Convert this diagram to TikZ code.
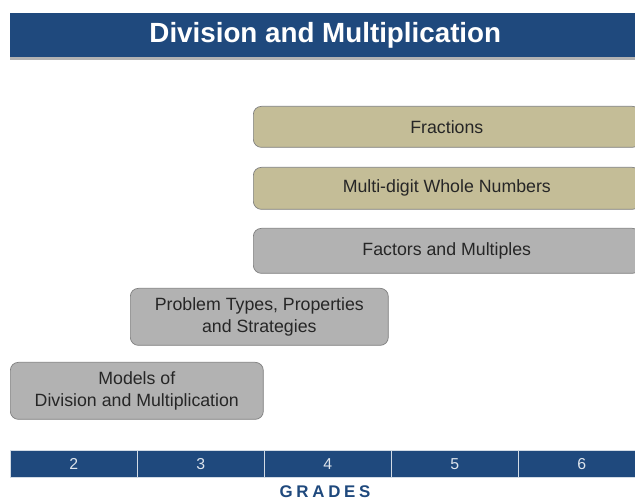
\documentclass[tikz,border=0pt]{standalone}
\usepackage{fontspec}
\setmainfont{Liberation Sans}
\newfontfamily\gradefont[LetterSpace=22]{Liberation Sans}
\usetikzlibrary{positioning,shadows}
\definecolor{barblue}{HTML}{1F497D}
\definecolor{tanfill}{HTML}{C4BD97}
\definecolor{greyfill}{HTML}{B2B2B2}
\definecolor{boxline}{HTML}{7F7F7F}
\definecolor{boxtext}{HTML}{262626}

\begin{document}
\begin{tikzpicture}[x=0.02cm,y=-0.02cm,font=\fontsize{10.1}{12.8}\selectfont,
  topic/.style={draw=boxline,rounded corners=0.16cm,align=center,anchor=north west,
    inner sep=0pt,text=boxtext},
  tanbox/.style={topic,fill=tanfill},
  greybox/.style={topic,fill=greyfill},
  gradecell/.style={fill=barblue,draw=white!80!barblue,line width=0.4pt,anchor=north west,
    minimum width=2.54cm,minimum height=0.54cm,inner sep=0pt,text=white!85!barblue,
    font=\fontsize{9}{10}\selectfont}]
\useasboundingbox (0,0) rectangle (635,499);
\clip (0,0) rectangle (635,499);

% heading
\node[fill=barblue,anchor=north west,minimum width=12.6cm,minimum height=0.88cm,inner sep=0pt,
  drop shadow={opacity=0.3,fill=black,shadow xshift=0pt,shadow yshift=-1.5pt},
  text=white,font=\fontsize{15.8}{18}\selectfont\bfseries] (heading) at (10,13)
  {Division and Multiplication};

% topics, top to bottom
\node[tanbox,minimum width=7.74cm,minimum height=0.82cm] (fractions) at (253,106) {Fractions};
\node[tanbox,minimum width=7.74cm,minimum height=0.84cm] (wholenum) at (253,167) {Multi-digit Whole Numbers};
\node[greybox,minimum width=7.74cm,minimum height=0.90cm] (factors) at (253,228) {Factors and Multiples};
\node[greybox,minimum width=5.16cm,minimum height=1.14cm] (probtypes) at (130,288)
  {Problem Types, Properties\\and Strategies};
\node[greybox,minimum width=5.06cm,minimum height=1.14cm] (models) at (10,362)
  {Models of\\Division and Multiplication};

% grade scale
\foreach \g [count=\i from 0] in {2,...,6}{
  \node[gradecell] (grade\g) at (10+127*\i,450) {\g};
}
\node[text=barblue,font=\gradefont\fontsize{9.6}{11}\selectfont\bfseries] (grades) at (325,492) {GRADES};
\end{tikzpicture}
\end{document}
